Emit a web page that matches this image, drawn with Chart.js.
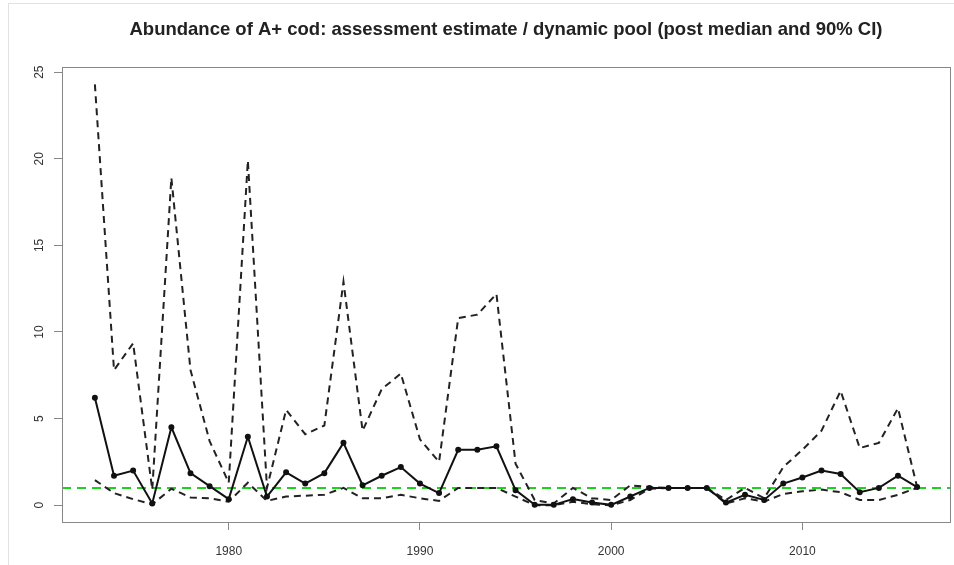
<!DOCTYPE html>
<html lang="en">
<head>
  <meta charset="UTF-8">
  <title>Abundance of A+ cod</title>
  <script src="https://cdn.jsdelivr.net/npm/chart.js"></script>
  <style>
    html, body {
      margin: 0;
      padding: 0;
      background: #fff;
    }
    #wrap {
      position: relative;
      width: 954px;
      height: 565px;
    }
    #frame {
      position: absolute;
      left: 8px;
      top: 3px;
      right: 0;
      bottom: 0;
      border-left: 1px solid #e2e2e2;
      border-top: 1px solid #e2e2e2;
      pointer-events: none;
    }
  </style>
</head>
<body>
  <div id="wrap">
    <canvas id="codChart" width="954" height="565"></canvas>
    <div id="frame"></div>
  </div>

  <script>
    const years = [];
    for (let y = 1973; y <= 2016; y++) years.push(y);

    // posterior median
    const median = [
      6.2, 1.7, 2.0, 0.1, 4.5, 1.85, 1.1, 0.35, 3.95, 0.5,
      1.9, 1.25, 1.85, 3.6, 1.15, 1.7, 2.2, 1.25, 0.7, 3.2,
      3.2, 3.4, 0.87, 0.02, 0.02, 0.35, 0.15, 0.02, 0.5, 1.0,
      1.0, 1.0, 1.0, 0.15, 0.6, 0.3, 1.25, 1.6, 2.0, 1.8,
      0.75, 1.0, 1.7, 1.05
    ];
    // 90% CI upper bound
    const upper = [
      24.3, 7.8, 9.35, 0.9, 18.9, 7.8, 3.7, 1.3, 19.9, 1.0,
      5.5, 4.1, 4.6, 12.9, 4.3, 6.7, 7.6, 3.8, 2.5, 10.8,
      11.0, 12.2, 2.4, 0.3, 0.1, 1.0, 0.4, 0.3, 1.15, 1.05,
      1.0, 1.0, 1.0, 0.3, 1.0, 0.4, 2.2, 3.2, 4.3, 6.6,
      3.3, 3.6, 5.6, 1.05
    ];
    // 90% CI lower bound
    const lower = [
      1.45, 0.7, 0.35, 0.05, 0.95, 0.45, 0.4, 0.2, 1.3, 0.25,
      0.5, 0.55, 0.6, 1.0, 0.4, 0.4, 0.6, 0.4, 0.25, 1.0,
      1.0, 1.0, 0.5, 0.0, 0.0, 0.2, 0.05, 0.0, 0.3, 0.95,
      1.0, 1.0, 1.0, 0.1, 0.4, 0.2, 0.65, 0.8, 0.9, 0.75,
      0.3, 0.3, 0.6, 1.0
    ];

    const refLevel = 1;
    const xTicks = [1980, 1990, 2000, 2010];
    const yTicks = [0, 5, 10, 15, 20, 25];
    const titleText = "Abundance of A+ cod: assessment estimate / dynamic pool (post median and 90% CI)";

    const pts = arr => arr.map((v, i) => ({ x: years[i], y: v }));

    const rStyle = {
      id: "rStyle",
      beforeDatasetsDraw(chart) {
        const { ctx, chartArea: a, scales } = chart;
        // green reference line (abline h = 1)
        const yy = scales.y.getPixelForValue(refLevel);
        ctx.save();
        ctx.strokeStyle = "#1fd01f";
        ctx.lineWidth = 2;
        ctx.setLineDash([9, 6]);
        ctx.beginPath();
        ctx.moveTo(a.left, yy);
        ctx.lineTo(a.right, yy);
        ctx.stroke();
        ctx.restore();
      },
      afterDraw(chart) {
        const { ctx, chartArea: a, scales } = chart;
        ctx.save();
        // box around plot
        ctx.strokeStyle = "#888";
        ctx.lineWidth = 1;
        ctx.strokeRect(a.left + 0.5, a.top + 0.5, a.right - a.left, a.bottom - a.top);

        // y labels, rotated like R
        ctx.fillStyle = "#333";
        ctx.font = "12px 'Liberation Sans', Arial, sans-serif";
        ctx.textAlign = "center";
        ctx.textBaseline = "middle";
        scales.y.ticks.forEach(t => {
          const py = scales.y.getPixelForValue(t.value);
          ctx.save();
          ctx.translate(40, py);
          ctx.rotate(-Math.PI / 2);
          ctx.fillText(String(t.value), 0, 0);
          ctx.restore();
        });

        // title
        ctx.fillStyle = "#222";
        ctx.font = "bold 18.5px 'Liberation Sans', Arial, sans-serif";
        ctx.fillText(titleText, (a.left + a.right) / 2, 30);
        ctx.restore();
      }
    };

    new Chart(document.getElementById("codChart"), {
      type: "line",
      data: {
        datasets: [
          {
            label: "median",
            data: pts(median),
            borderColor: "#111",
            backgroundColor: "#111",
            borderWidth: 2,
            pointRadius: 2,
            pointHoverRadius: 2,
            tension: 0
          },
          {
            label: "upper",
            data: pts(upper),
            borderColor: "#222",
            borderWidth: 2,
            borderDash: [7, 5],
            pointRadius: 0,
            tension: 0
          },
          {
            label: "lower",
            data: pts(lower),
            borderColor: "#222",
            borderWidth: 2,
            borderDash: [7, 5],
            pointRadius: 0,
            tension: 0
          }
        ]
      },
      options: {
        responsive: false,
        animation: false,
        events: [],
        layout: { padding: { top: 67, right: 3, left: 0, bottom: 0 } },
        plugins: {
          legend: { display: false },
          title: { display: false },
          tooltip: { enabled: false }
        },
        scales: {
          x: {
            type: "linear",
            min: 1971.28,
            max: 2017.72,
            afterBuildTicks: s => { s.ticks = xTicks.map(v => ({ value: v })); },
            afterFit: s => { s.height = 43; },
            grid: {
              drawOnChartArea: false,
              drawTicks: true,
              tickLength: 8,
              color: "#888"
            },
            border: { display: false },
            ticks: {
              color: "#333",
              padding: 14,
              maxRotation: 0,
              font: { family: "'Liberation Sans', Arial, sans-serif", size: 12 },
              callback: v => String(v)
            }
          },
          y: {
            type: "linear",
            min: -0.97,
            max: 25.3,
            afterBuildTicks: s => { s.ticks = yTicks.map(v => ({ value: v })); },
            afterFit: s => { s.width = 62; },
            grid: {
              drawOnChartArea: false,
              drawTicks: true,
              tickLength: 8,
              color: "#888"
            },
            border: { display: false },
            ticks: { display: false }
          }
        }
      },
      plugins: [rStyle]
    });
  </script>
</body>
</html>
